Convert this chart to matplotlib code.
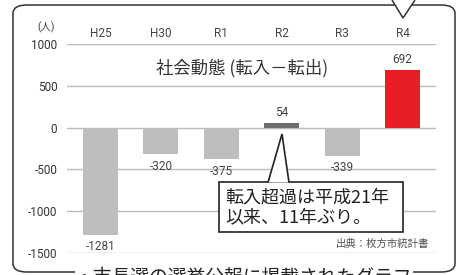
import matplotlib
matplotlib.use("Agg")
import matplotlib.pyplot as plt
from matplotlib.patches import FancyBboxPatch, Polygon

plt.rcParams['font.family'] = ['Roboto', 'Noto Sans CJK JP', 'DejaVu Sans']

# データ
years = ["H25", "H30", "R1", "R2", "R3", "R4"]
values = [-1281, -320, -375, 54, -339, 692]
bar_colors = ["#bdbec0", "#bdbec0", "#bdbec0", "#6e6e6e", "#bdbec0", "#e61e25"]
yticks = [1000, 500, 0, -500, -1000, -1500]

W, H = 457, 275
fig = plt.figure(figsize=(W / 100, H / 100), dpi=100)
fig.patch.set_facecolor("white")

def fx(px):
    return px / W

def fy(py):
    return 1 - py / H

# 外枠 (角丸)
frame = FancyBboxPatch((fx(13), fy(272)), fx(455) - fx(13), fy(5) - fy(272),
                       boxstyle="round,pad=0,rounding_size=0.03",
                       transform=fig.transFigure, fill=False,
                       edgecolor="#333333", linewidth=1.1)
fig.add_artist(frame)
# 上の吹き出しのしっぽ
fig.add_artist(Polygon([(fx(392), fy(0)), (fx(403), fy(18)), (fx(415), fy(0))],
                       closed=False, transform=fig.transFigure,
                       facecolor="white", edgecolor="#333333", linewidth=1.1))

# グラフ本体
ax = fig.add_axes([fx(67), fy(253), fx(436) - fx(67), fy(44) - fy(253)])
x = list(range(len(years)))
ax.bar(x, values, width=0.58, color=bar_colors, zorder=3)
ax.set_xlim(-0.555, 5.555)
ax.set_ylim(-1500, 1000)
ax.set_yticks(yticks)
ax.set_yticklabels([str(v) for v in yticks], fontsize=8.5, color="#333333")
ax.tick_params(axis="y", length=0, pad=7)
ax.set_xticks([])
ax.grid(axis="y", color="#bbbbbb", linewidth=1, zorder=0)
for s in ax.spines.values():
    s.set_visible(False)

# 年度ラベル (上)
for i, lab in enumerate(years):
    ax.text(i, 1000 + 120, lab, ha="center", va="center", fontsize=8.5, color="#444444")
ax.text(-0.9, 1000 + 200, "(人)", ha="center", va="center", fontsize=7.5, color="#444444")

# 値ラベル
for i, v in enumerate(values):
    if v < 0:
        ax.annotate(str(v), (i, v), xytext=(0, -4), textcoords="offset points",
                    ha="center", va="top", fontsize=8.5, color="#444444")
    else:
        ax.annotate(str(v), (i, v), xytext=(0, 3), textcoords="offset points",
                    ha="center", va="bottom", fontsize=8.5, color="#444444")

# タイトル
fig.text(fx(242), fy(68), "社会動態 (転入－転出)", ha="center", va="center",
         fontsize=12.5, color="#333333", family=["Noto Sans CJK JP", "DejaVu Sans"])

# 出典
fig.text(fx(429), fy(244), "出典：枚方市統計書", ha="right", va="center",
         fontsize=7.5, color="#555555", family=["Noto Sans CJK JP", "DejaVu Sans"])

# 吹き出し
box = FancyBboxPatch((fx(219), fy(232)), fx(403) - fx(219), fy(182) - fy(232),
                     boxstyle="square,pad=0", transform=fig.transFigure,
                     facecolor="white", edgecolor="#222222", linewidth=1.2, zorder=5)
fig.add_artist(box)
fig.add_artist(Polygon([(fx(268), fy(182.5)), (fx(282), fy(134)), (fx(289), fy(182.5))],
                       closed=False, transform=fig.transFigure, facecolor="white",
                       edgecolor="#222222", linewidth=1.2, zorder=6))
fig.text(fx(225), fy(197), "転入超過は平成21年", ha="left", va="center", fontsize=13,
         color="#222222", zorder=7, family=["Noto Sans CJK JP", "DejaVu Sans"])
fig.text(fx(225), fy(217), "以来、11年ぶり。", ha="left", va="center", fontsize=13,
         color="#222222", zorder=7, family=["Noto Sans CJK JP", "DejaVu Sans"])

# 下の文字 (元画像でも見切れている)
fig.text(fx(75), fy(267), "・市長選の選挙公報に掲載されたグラフ", ha="left", va="top",
         fontsize=13.5, color="#222222", family=["Noto Sans CJK JP", "DejaVu Sans"],
         bbox=dict(facecolor="white", edgecolor="none", pad=0))

fig.savefig("out.png", dpi=100)
